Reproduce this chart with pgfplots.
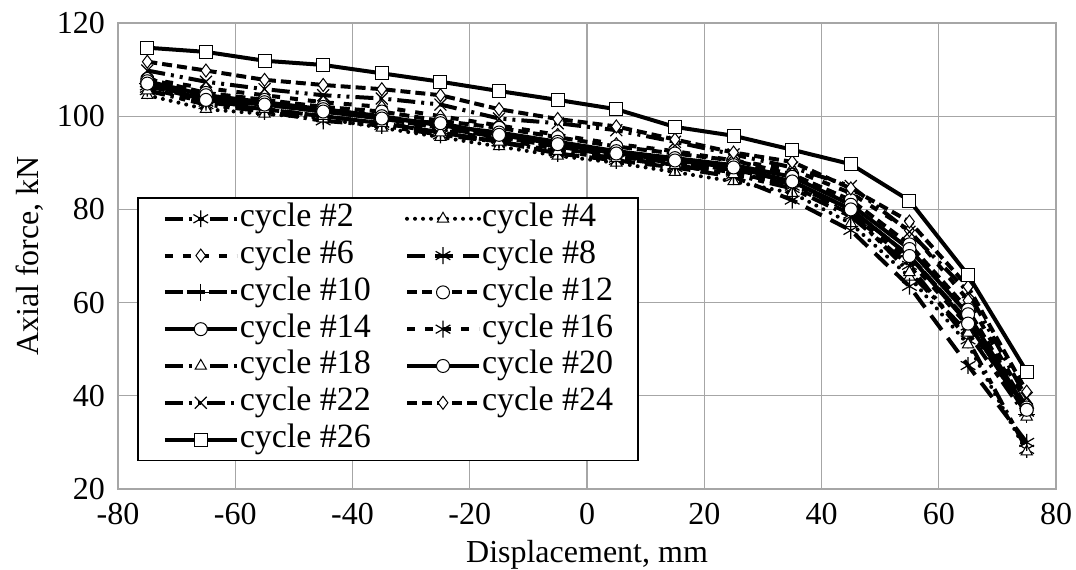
\documentclass[border=0pt]{standalone}
\usepackage{fontspec}
\setmainfont{Liberation Serif}
\usepackage{pgfplots}
\pgfplotsset{compat=1.18}

% line patterns read from the legend
\tikzset{
  ldd/.style={dash pattern=on 9pt off 3pt on 1.5pt off 3pt on 3pt off 3pt},
  dotl/.style={line cap=round, dash pattern=on 0pt off 4pt},
  dsh/.style={dash pattern=on 4pt off 5pt},
  lng/.style={dash pattern=on 9pt off 5pt},
  lngs/.style={dash pattern=on 9pt off 2pt},
  dshd/.style={dash pattern=on 5pt off 2.5pt},
  ldot2/.style={dash pattern=on 9pt off 3pt on 1.5pt off 3pt on 1.5pt off 3pt},
  mk/.style={mark options={solid, fill=white, line width=0.5pt}},
  mkx/.style={mark options={solid, line width=0.6pt, scale=1.3}},
}

\begin{document}
\begin{tikzpicture}
\begin{axis}[
  name=ax,
  scale only axis,
  width=469pt, height=233pt,
  font=\fontsize{16}{19}\selectfont,
  xmin=-80, xmax=80, ymin=20, ymax=120,
  xtick={-80,-60,...,80}, ytick={20,40,...,120},
  grid=major,
  grid style={gray!70, line width=0.6pt},
  axis line style={gray!70, line width=0.6pt},
  major tick length=0pt,
  /pgf/number format/assume math mode=true,
  xticklabel style={yshift=-6pt, inner sep=1pt},
  yticklabel style={xshift=-3pt},
  xlabel={Displacement, mm},
  ylabel={Axial force, kN},
  xlabel style={at={(axis description cs:0.5,0)}, anchor=center, yshift=-33pt, inner sep=1pt},
  ylabel style={at={(axis description cs:0,0.5)}, anchor=center, yshift=44pt},
  every axis plot/.append style={black, line width=2pt, mark size=3.25pt},
  legend columns=2,
  legend cell align=left,
  legend image code/.code={\draw[mark repeat=2,mark phase=2] plot coordinates {(0pt,0pt) (18pt,0pt) (36pt,0pt)};},
  legend style={at={(0.0203,0.6266)}, anchor=north west, draw=black, line width=0.75pt,
    font=\fontsize{17}{20}\selectfont,
    inner xsep=12.5pt, inner ysep=3pt,
    nodes={inner sep=0pt, text height=11.5pt, text depth=3.5pt},
    row sep=3.4pt,
    /tikz/every odd column/.append style={column sep=0.5pt},
    /tikz/every even column/.append style={column sep=17pt}},
]
\addplot[ldd, mark=asterisk, mkx] coordinates {
(-75,105.5) (-65,102.5) (-55,101.0) (-45,99.0) (-35,98.0) (-25,96.0) (-15,94.5) (-5,92.5)
(5,91.0) (15,89.5) (25,87.5) (35,84.5) (45,78.5) (55,68.0) (65,52.0) (75,28.5)};
\addlegendentry{cycle \#2}
\addplot[dotl, mark=triangle*, mk] coordinates {
(-75,104.5) (-65,101.5) (-55,100.5) (-45,99.5) (-35,97.5) (-25,95.5) (-15,93.5) (-5,91.5)
(5,90.0) (15,88.0) (25,86.0) (35,83.5) (45,77.0) (55,65.5) (65,51.0) (75,28.0)};
\addlegendentry{cycle \#4}
\addplot[dsh, mark=diamond*, mk] coordinates {
(-75,108.0) (-65,106.0) (-55,104.5) (-45,103.0) (-35,102.0) (-25,100.0) (-15,98.0) (-5,96.0)
(5,94.0) (15,92.5) (25,90.5) (35,88.5) (45,83.5) (55,75.5) (65,60.5) (75,38.5)};
\addlegendentry{cycle \#6}
\addplot[lng, mark=asterisk, mkx] coordinates {
(-75,106.5) (-65,103.5) (-55,101.5) (-45,100.0) (-35,98.5) (-25,96.5) (-15,94.5) (-5,92.0)
(5,90.5) (15,89.0) (25,87.0) (35,82.0) (45,75.5) (55,63.5) (65,46.5) (75,30.0)};
\addlegendentry{cycle \#8}
\addplot[lngs, mark=+, mkx] coordinates {
(-75,107.0) (-65,104.0) (-55,102.5) (-45,101.0) (-35,99.5) (-25,97.5) (-15,95.5) (-5,93.5)
(5,91.5) (15,90.0) (25,88.5) (35,86.0) (45,80.0) (55,70.0) (65,56.0) (75,36.0)};
\addlegendentry{cycle \#10}
\addplot[dshd, mark=*, mk] coordinates {
(-75,108.0) (-65,105.0) (-55,103.5) (-45,102.0) (-35,101.0) (-25,99.0) (-15,97.5) (-5,95.5)
(5,93.5) (15,92.0) (25,90.5) (35,87.5) (45,82.0) (55,72.5) (65,58.5) (75,37.5)};
\addlegendentry{cycle \#12}
\addplot[solid, mark=*, mk] coordinates {
(-75,107.5) (-65,104.5) (-55,103.0) (-45,101.5) (-35,100.0) (-25,98.0) (-15,96.5) (-5,94.5)
(5,92.5) (15,91.0) (25,89.5) (35,87.0) (45,81.0) (55,71.5) (65,57.5) (75,37.0)};
\addlegendentry{cycle \#14}
\addplot[dsh, mark=asterisk, mkx] coordinates {
(-75,106.0) (-65,103.0) (-55,101.5) (-45,100.0) (-35,98.5) (-25,97.0) (-15,95.0) (-5,93.0)
(5,91.5) (15,89.5) (25,88.0) (35,85.0) (45,79.0) (55,69.0) (65,55.0) (75,36.5)};
\addlegendentry{cycle \#16}
\addplot[ldd, mark=triangle*, mk] coordinates {
(-75,105.5) (-65,103.0) (-55,101.5) (-45,100.0) (-35,98.5) (-25,96.5) (-15,94.5) (-5,92.5)
(5,91.0) (15,89.5) (25,87.5) (35,85.5) (45,79.5) (55,66.5) (65,53.5) (75,35.5)};
\addlegendentry{cycle \#18}
\addplot[solid, mark=*, mk] coordinates {
(-75,107.0) (-65,103.5) (-55,102.5) (-45,101.0) (-35,99.5) (-25,98.5) (-15,96.0) (-5,94.0)
(5,92.0) (15,90.5) (25,89.0) (35,86.0) (45,80.0) (55,70.0) (65,55.5) (75,37.0)};
\addlegendentry{cycle \#20}
\addplot[ldot2, mark=x, mkx] coordinates {
(-75,109.8) (-65,107.4) (-55,105.8) (-45,104.5) (-35,103.8) (-25,102.5) (-15,99.5) (-5,98.5)
(5,97.0) (15,94.5) (25,91.8) (35,89.0) (45,85.0) (55,75.2) (65,62.3) (75,39.5)};
\addlegendentry{cycle \#22}
\addplot[dshd, mark=diamond*, mk] coordinates {
(-75,111.7) (-65,109.8) (-55,107.8) (-45,106.7) (-35,105.8) (-25,104.5) (-15,101.5) (-5,99.4)
(5,97.8) (15,95.0) (25,92.2) (35,90.2) (45,84.5) (55,77.4) (65,63.4) (75,40.9)};
\addlegendentry{cycle \#24}
\addplot[solid, mark=square*, mk] coordinates {
(-75,114.7) (-65,113.8) (-55,111.9) (-45,111.0) (-35,109.2) (-25,107.4) (-15,105.4) (-5,103.5)
(5,101.5) (15,97.7) (25,95.8) (35,92.8) (45,89.7) (55,81.9) (65,65.9) (75,45.2)};
\addlegendentry{cycle \#26}
\end{axis}
\pgfresetboundingbox
\path ([shift={(-59pt,-40pt)}]ax.south west) rectangle ([shift={(10pt,11.5pt)}]ax.north east);
\end{tikzpicture}
\end{document}
